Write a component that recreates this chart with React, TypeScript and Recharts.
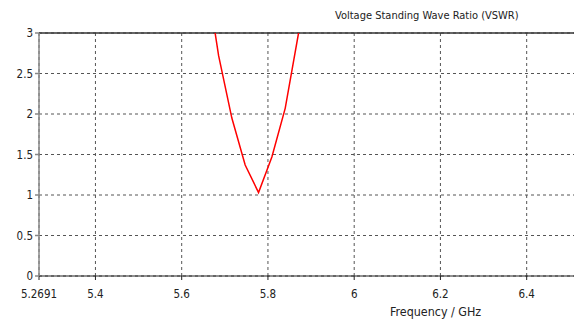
import { LineChart, Line, XAxis, YAxis, CartesianGrid, ReferenceLine } from 'recharts'

// samples of the VSWR curve (GHz / ratio)
const freqs = [5.6547, 5.6856, 5.7163, 5.7472, 5.7782, 5.8091, 5.84, 5.871, 5.902]
const vswr = [3.79, 2.72, 1.95, 1.37, 1.03, 1.47, 2.07, 3.0, 3.95]

const xTicks = [5.2691, 5.4, 5.6, 5.8, 6, 6.2, 6.4]
const yTicks = [0, 0.5, 1, 1.5, 2, 2.5, 3]

const data = freqs.map((f, i) => ({ f, v: vswr[i] }))

const font = '"DejaVu Sans Condensed", Tahoma, sans-serif'

export default function App() {
  return (
    <div style={{ position: 'absolute', left: 0, top: 0, width: 574, height: 322, overflow: 'hidden', background: '#fff', fontFamily: font }}>
      <div style={{ position: 'absolute', left: 335, top: 9, fontSize: 11, color: '#222' }}>
        Voltage Standing Wave Ratio (VSWR)
      </div>
      <div style={{ position: 'absolute', left: 390, top: 304, fontSize: 12.4, color: '#222' }}>
        Frequency / GHz
      </div>
      <LineChart width={578} height={322} data={data} margin={{ top: 33, right: 0, bottom: 0, left: 0 }}>
        <CartesianGrid stroke="#555" strokeDasharray="3 3" />
        <XAxis
          dataKey="f"
          type="number"
          domain={[5.2691, 6.519]}
          ticks={xTicks}
          interval={0}
          height={46}
          stroke="#222"
          tickSize={4}
          tickMargin={10}
          tick={{ fontSize: 11.5, fill: '#222', fontFamily: font }}
        />
        <YAxis
          type="number"
          domain={[0, 3]}
          ticks={yTicks}
          allowDataOverflow
          width={39}
          stroke="#888"
          strokeWidth={1.5}
          tickSize={4}
          tick={{ fontSize: 11.5, fill: '#222', fontFamily: font }}
        />
        <ReferenceLine y={3} stroke="#333" strokeWidth={1.5} />
        <Line dataKey="v" stroke="#ff0000" strokeWidth={1.5} dot={false} isAnimationActive={false} />
      </LineChart>
    </div>
  )
}
